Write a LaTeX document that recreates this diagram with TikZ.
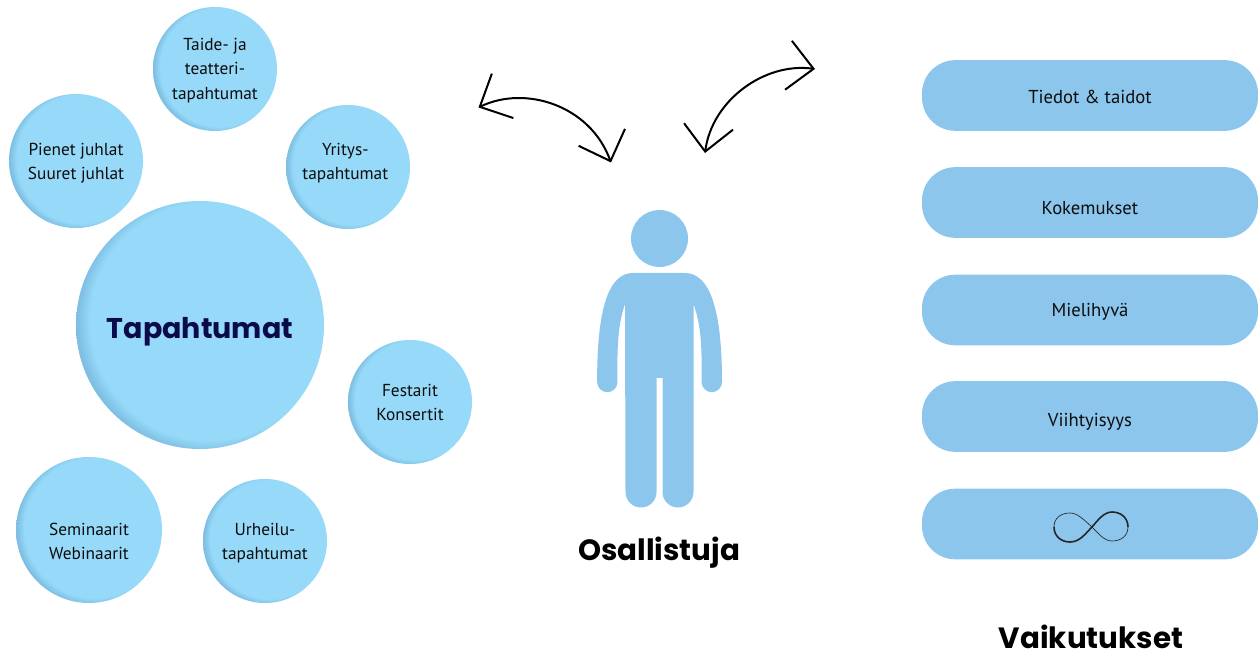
\documentclass[tikz,border=0pt]{standalone}
\usepackage{fontspec}
\setmainfont{PT Sans}
\newfontfamily\headfont{Poppins}
\usetikzlibrary{arrows.meta}
\definecolor{bubblelight}{HTML}{96D9F8}
\definecolor{bubbledark}{HTML}{7DBEE1}
\definecolor{pillblue}{HTML}{8DC6EC}
\definecolor{navy}{HTML}{0B0B4B}
\pgfdeclareradialshading{bubbleshade}{\pgfpoint{3.5bp}{1.5bp}}{color(0bp)=(bubblelight); color(24bp)=(bubblelight); color(26.5bp)=(bubbledark); color(50bp)=(bubbledark)}
\begin{document}
\begin{tikzpicture}[x=.75pt, y=-.75pt, align=center,
    every node/.style={font=\fontsize{13}{18}\selectfont, text=black!95},
    every label/.style={align=center, yshift=-1.2pt},
    bubble/.style={circle, inner sep=0pt, minimum size=#1*.75pt, shade, shading=bubbleshade},
    pill/.style={rounded corners=25pt, fill=pillblue, minimum width=252pt, minimum height=53pt, inner sep=0pt},
    pilltext/.style={font=\fontsize{14}{18}\selectfont},
    heading/.style={font=\headfont\bfseries\fontsize{22}{26}\selectfont, text=black, inner sep=0pt},
    swing/.style={line width=1.5pt, {Straight Barb[length=19pt,width=37pt]}-{Straight Barb[length=19pt,width=37pt]}}]
\useasboundingbox (0,0) rectangle (1258,652);
% Events on the left

\node (tapahtumat)      [bubble=248]    at (200,325)    {};
\node (tapahtumat-text) [heading, text=navy, font=\headfont\bfseries\fontsize{21.4}{26}\selectfont] at (200,332) {Tapahtumat};
\node (taide)   [bubble=124, label={center:Taide- ja\\teatteri-\\tapahtumat}]   at (215,69)  {};
\node (juhlat)  [bubble=134, label={[yshift=-.75pt]center:Pienet juhlat\\Suuret juhlat}] at (76,161) {};
\node (yritys)  [bubble=124, label={[xshift=-2pt, yshift=4pt]center:Yritys-\\tapahtumat}] at (348,167) {};
\node (festarit)    [bubble=124, label={[yshift=.75pt]center:Festarit\\Konsertit}] at (410,402) {};
\node (seminaarit)  [bubble=146, label={[yshift=-7.5pt]center:Seminaarit\\Webinaarit}] at (89,530) {};
\node (urheilu)     [bubble=124, label={center:Urheilu-\\tapahtumat}]           at (265,541) {};

% Person in the middle
\fill[pillblue] (659.5,238.5) circle (28.5);
\fill[pillblue] (633,273) -- (685,273) .. controls (710,273) and (722,310) .. (722,382)
    arc (0:180:10.2) .. controls (702,345) and (701,325) .. (693.5,304)
    -- (693.5,492) arc (0:180:15.5) -- (662.5,378) -- (656.5,378) -- (656.5,492)
    arc (0:180:15.5) -- (625,304) .. controls (618,325) and (617,345) .. (617.5,382)
    arc (0:180:10.2) .. controls (597,310) and (608,273) .. (633,273) -- cycle;
\node (osallistuja) [heading] at (659,553) {Osallistuja};

% Arrows above the person
\coordinate (swing-a) at (478.5,107.5);
\coordinate (swing-b) at (611,162.5);
\coordinate (swing-c) at (705,153);
\coordinate (swing-d) at (815,69);
\draw[swing] (swing-a) .. controls (525,85) and (590,105) .. (swing-b);
\draw[swing] (swing-c) .. controls (712,100) and (765,62) .. (swing-d);

% Effects on the right
\node (tiedot)      [pill, label={[pilltext]center:Tiedot \& taidot}]           at (1090,95.5)  {};
\node (kokemukset)  [pill, label={[pilltext, yshift=-3.2pt]center:Kokemukset}]  at (1090,202.5) {};
\node (mielihyva)   [pill, label={[pilltext]center:Mielihyvä}]                  at (1090,310)   {};
\node (viihtyisyys) [pill, label={[pilltext, yshift=-2.5pt]center:Viihtyisyys}] at (1090,416.5) {};
\node (ikuisuus)    [pill] at (1090,524)    {};
\node (vaikutukset) [heading] at (1091,637) {Vaikutukset};

% Infinity sign on the last pill
\draw[black!85, line width=.5pt] (1054,527) .. controls (1054,518) and (1061,513) .. (1070,513)
    .. controls (1078,513) and (1085,521) .. (1092,527);
\draw[black!85, line width=.5pt] (1128,527) .. controls (1128,536) and (1121,541) .. (1112,541)
    .. controls (1104,541) and (1098,533) .. (1092,527);
\draw[black!85, line width=1.2pt] (1054,527) .. controls (1054,536) and (1061,542) .. (1070,542)
    .. controls (1080,542) and (1086,533) .. (1092,527)
    .. controls (1098,520) and (1104,512) .. (1112,512)
    .. controls (1121,512) and (1128,518) .. (1128,527);
\end{tikzpicture}
\end{document}
